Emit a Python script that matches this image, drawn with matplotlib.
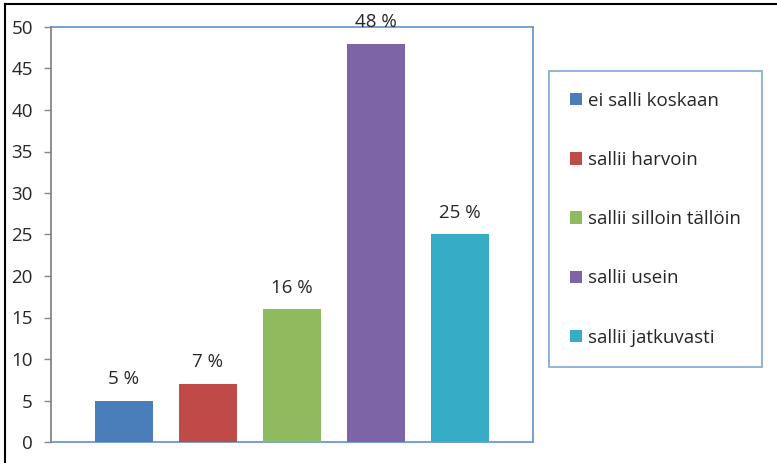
import numpy as np
import matplotlib
matplotlib.use('Agg')
import matplotlib.pyplot as plt
from matplotlib.patches import Patch
from matplotlib.lines import Line2D

# data
categories = ['ei salli koskaan', 'sallii harvoin', 'sallii silloin tällöin',
              'sallii usein', 'sallii jatkuvasti']
values = [5, 7, 16, 48, 25]
labels = ['5 %', '7 %', '16 %', '48 %', '25 %']
colors = ['#4A7EBB', '#BE4B48', '#8FBB5E', '#7D64A7', '#37ACC6']

plt.rcParams['font.family'] = ['Open Sans', 'DejaVu Sans']
txt = '#262626'
border = '#6C98D0'
fs = 13.5

fig = plt.figure(figsize=(7.77, 4.63), dpi=100)
W, H = 777, 463
ax = fig.add_axes([51 / W, 1 - 442 / H, (533 - 51) / W, (442 - 27) / H])

x = np.arange(len(values))
ax.bar(x, values, width=0.69, color=colors, zorder=3)
for xi, v, lab in zip(x, values, labels):
    ax.text(xi, v + 1.5, lab, ha='center', va='bottom', fontsize=fs, color=txt)

ax.set_xlim(-0.869, 4.869)
ax.set_ylim(0, 50)
ax.set_yticks(np.arange(0, 51, 5))
ax.set_xticks([])
ax.tick_params(axis='y', length=5, width=1, color='#868686', labelsize=fs,
               labelcolor=txt, pad=8)
for side in ['top', 'right', 'bottom']:
    ax.spines[side].set_color(border)
    ax.spines[side].set_linewidth(1.3)
ax.spines['left'].set_color('#868686')
ax.spines['left'].set_linewidth(1.3)
ax.spines['left'].set_zorder(5)

handles = [Patch(facecolor=c, edgecolor='none') for c in colors]
leg = fig.legend(handles, categories, loc='upper left', mode='expand',
                 bbox_to_anchor=(549 / W, 1 - 71 / H, (762 - 549) / W, 0),
                 fontsize=fs, frameon=True, fancybox=False,
                 handlelength=0.65, handleheight=0.65, handletextpad=0.35,
                 labelspacing=2.2, borderpad=1.1, labelcolor=txt,
                 borderaxespad=0)
leg.get_frame().set_edgecolor(border)
leg.get_frame().set_linewidth(1.3)

# cropped outer frame (left and top edge only)
fig.add_artist(Line2D([5 / W, 5 / W], [0, 1 - 4 / H], color='black', lw=1.5))
fig.add_artist(Line2D([5 / W, 1], [1 - 4 / H, 1 - 4 / H], color='black', lw=1.5))

fig.savefig('out.png', dpi=100)
